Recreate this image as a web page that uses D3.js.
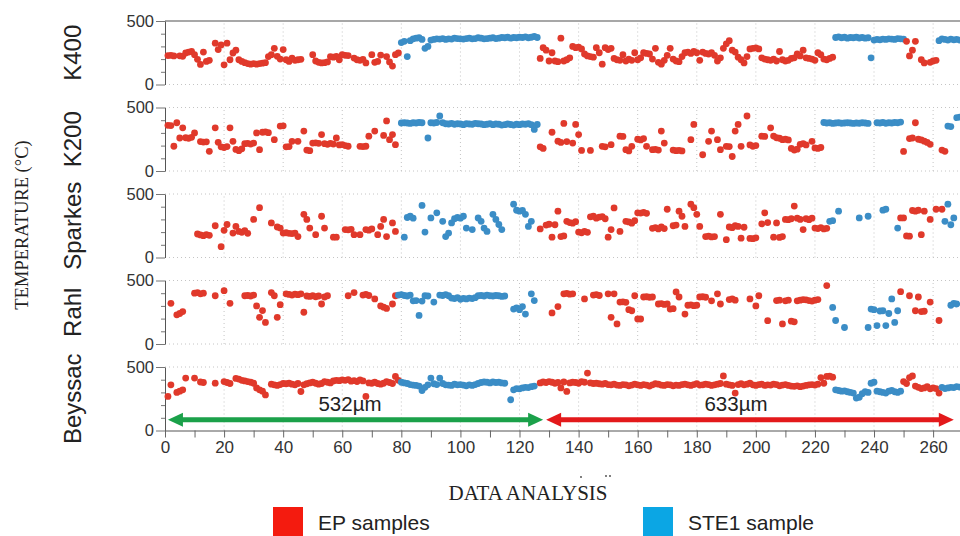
<!DOCTYPE html>
<html>
<head>
<meta charset="utf-8">
<script src="https://cdn.jsdelivr.net/npm/d3@7"></script>
<style>
  body { margin: 0; background: #fff; }
</style>
</head>
<body>
<svg id="chart" width="960" height="536"></svg>
<script>
// panel names, top to bottom
const panelNames = ["K400", "K200", "Sparkes", "Rahl", "Beyssac"];

// temperature per analysis, index 0 = analysis 1 (null = no point)
const k400 = [
  228,230,225,null,226,222,248,255,260,235,
  198,158,255,182,190,null,325,275,312,155,
  325,195,248,270,195,182,172,165,160,165,
  160,165,168,172,220,235,285,222,200,275,
  195,182,208,190,195,198,null,null,null,235,
  185,175,170,172,178,220,215,222,195,235,
  230,228,null,208,195,190,198,170,null,235,
  175,182,232,null,220,178,145,235,248,330,
  340,220,345,360,365,368,355,285,300,350,
  355,360,358,362,355,360,358,365,362,360,
  358,362,365,360,362,368,365,360,362,365,
  368,362,365,370,368,372,365,370,368,372,
  370,375,368,372,378,370,205,290,270,185,
  250,185,180,365,185,195,210,300,290,295,
  280,240,225,220,215,290,250,160,290,275,
  285,205,195,190,235,185,200,190,250,195,
  210,250,245,240,200,285,175,160,190,230,
  285,200,185,180,220,250,255,245,260,250,
  190,255,245,240,250,230,185,210,285,320,
  345,270,255,215,195,170,220,280,285,288,
  280,210,200,195,190,200,185,260,195,185,
  190,205,210,240,225,270,210,205,200,190,
  250,235,200,195,205,215,370,375,368,372,
  365,370,368,372,366,370,365,368,210,350,
  355,352,358,355,360,358,355,362,360,358,
  340,225,270,340,null,195,170,null,175,185,
  190,345,360,355,350,358,352,355,350
];
const k200 = [
  360,358,195,380,260,340,262,258,265,300,
  null,232,228,230,155,null,340,226,190,185,
  192,340,234,170,160,175,215,218,212,220,
  300,168,305,308,302,null,247,null,354,356,
  190,192,234,null,234,null,314,165,160,220,
  222,218,287,215,210,218,212,260,205,208,
  200,195,null,null,null,194,192,195,274,null,
  314,null,null,280,394,247,287,207,null,378,
  380,378,375,380,378,382,380,null,260,380,
  378,382,433,380,372,370,375,368,372,370,
  365,372,370,368,375,372,370,365,368,372,
  365,370,368,362,365,370,366,362,368,365,
  370,368,372,365,327,366,190,178,null,null,
  305,null,235,225,375,232,null,220,367,287,
  162,null,null,162,null,null,null,194,190,null,
  207,null,null,274,272,168,158,194,null,250,
  245,255,194,null,168,170,165,314,220,null,
  null,165,160,162,158,null,null,247,367,null,
  null,128,null,234,314,null,247,168,null,194,
  192,114,314,367,194,null,433,205,195,200,
  null,274,272,null,340,275,262,258,247,250,
  245,178,165,172,210,215,205,null,234,182,
  178,185,382,378,380,375,378,380,376,378,
  380,378,375,378,376,380,378,375,null,null,
  380,378,382,376,380,378,382,380,385,154,
  null,255,260,380,250,245,235,225,210,null,
  null,null,165,155,354,350,null,420,425
];
const sparkes = [
  null,null,null,null,null,null,null,null,null,null,
  185,178,172,180,175,null,250,null,85,214,
  260,null,192,245,205,198,212,190,null,300,
  null,392,null,null,null,272,null,240,232,192,
  195,190,188,192,165,null,340,300,232,null,
  180,null,325,232,null,null,160,160,null,null,
  220,218,222,180,null,180,null,220,215,225,
  null,180,245,300,165,null,272,205,null,null,
  160,315,325,310,null,null,410,200,null,312,
  null,352,null,285,165,192,272,305,315,310,
  325,232,null,220,null,312,285,232,205,null,
  340,300,260,220,null,null,null,420,372,365,
  370,340,245,285,null,null,225,null,255,262,
  160,258,365,165,170,285,275,270,282,200,
  195,205,198,320,325,310,318,322,305,160,
  220,390,null,205,null,285,280,270,290,352,
  350,355,348,null,230,235,225,240,228,380,
  null,250,255,365,325,245,null,420,392,340,
  245,null,165,168,162,165,null,340,null,140,
  240,235,250,245,152,238,null,150,148,155,
  null,265,352,275,null,160,272,158,165,300,
  298,305,405,310,300,220,305,298,310,232,
  228,235,225,230,285,290,null,365,null,null,
  null,null,null,null,312,null,null,325,null,null,
  null,null,373,380,null,null,null,232,312,312,
  170,168,370,365,372,180,365,null,300,null,
  380,null,380,285,420,258,312,null,null
];
const rahl = [
  null,320,null,230,240,255,null,null,null,400,
  405,395,400,null,null,null,380,null,null,420,
  null,320,null,null,null,null,380,382,378,385,
  300,210,263,170,null,405,380,210,310,null,
  395,390,385,392,388,395,250,378,375,380,
  372,378,315,370,380,null,null,null,null,null,
  null,380,null,405,null,null,385,390,382,null,
  355,null,300,290,280,null,315,380,385,388,
  382,378,385,340,342,225,338,380,378,null,
  330,null,385,382,388,380,362,358,365,352,
  360,355,362,358,365,380,382,378,385,380,
  378,382,380,375,378,null,null,275,285,270,
  295,236,null,395,342,null,null,null,null,null,
  245,null,295,null,395,398,392,395,null,null,
  null,355,null,null,385,388,382,null,null,395,
  210,395,158,330,332,328,270,262,380,197,
  197,370,372,368,370,null,315,318,312,315,
  275,278,410,370,null,236,305,308,302,305,
  370,372,368,null,340,null,395,315,null,null,
  350,355,345,null,null,null,null,355,null,300,
  380,null,null,184,null,null,342,345,158,340,
  345,180,175,340,345,350,348,342,338,345,
  350,null,null,460,null,288,185,null,null,130,
  null,null,null,null,null,null,null,130,275,270,
  145,260,262,145,240,355,170,262,412,null,
  null,380,null,262,370,255,258,null,330,null,
  null,185,null,null,null,305,320,315,null
];
const beyssac = [
  268,360,null,300,310,320,413,null,null,413,
  null,382,378,null,null,null,373,null,null,385,
  378,370,null,410,405,395,390,385,380,372,
  335,320,310,280,null,365,360,355,362,370,
  368,372,365,360,370,307,360,368,375,380,
  372,365,370,385,380,375,390,395,392,398,
  395,400,388,392,385,398,390,268,375,372,
  380,370,365,372,385,378,370,426,395,380,
  375,370,362,358,355,350,315,340,360,413,
  368,362,413,370,360,358,355,365,360,362,
  358,352,360,355,362,370,378,382,380,375,
  382,378,380,375,372,null,242,320,330,328,
  335,340,338,345,350,null,375,382,378,385,
  380,372,378,335,382,308,375,380,378,372,
  385,380,452,375,370,372,368,365,370,362,
  360,365,358,355,362,360,352,358,365,360,
  355,362,358,350,360,368,365,358,355,362,
  360,352,358,355,362,365,360,355,362,368,
  358,360,365,362,355,360,365,370,430,365,
  360,355,295,362,368,360,365,372,360,355,
  362,365,355,360,358,365,362,352,358,362,
  355,350,348,352,345,350,355,360,362,358,
  365,417,372,426,428,420,320,315,310,312,
  305,300,295,255,262,290,305,300,372,380,
  310,305,300,295,310,315,305,300,310,385,
  370,417,430,350,340,330,335,345,328,335,
  330,295,340,330,335,340,338,345,342
];
const panelValues = [k400, k200, sparkes, rahl, beyssac];

// analysis ranges that belong to the STE1 sample, per panel
const k400Ste1 = [[80, 126], [227, 250], [262, 269]];
const k200Ste1 = [[80, 126], [223, 249], [265, 269]];
const sparkesSte1 = [[80, 126], [225, 248], [264, 269]];
const rahlSte1 = [[79, 126], [226, 248], [266, 269]];
const beyssacSte1 = [[80, 126], [227, 249], [263, 269]];
const panelSte1 = [k400Ste1, k200Ste1, sparkesSte1, rahlSte1, beyssacSte1];

// ticks
const xTicks = [0,10,20,30,40,50,60,70,80,90,100,110,120,130,140,150,160,170,180,190,200,210,220,230,240,250,260];
const yTicks = [0, 100, 200, 300, 400, 500];

// laser spot spans shown under the bottom panel
const spanLabels = ["532µm", "633µm"];
const spanStart = [1, 129];
const spanEnd = [128, 267];
const spanLevel = 85;   // drawn at this temperature in the Beyssac panel
const spanLabelLevel = 155;

const legendLabels = ["EP samples", "STE1 sample"];

// ---- layout
const svg = d3.select('#chart');
const left = 165, right = 960;
const panelTop = 21, panelStep = 86.5, panelH = 63.5;
const red = '#e0392b', blue = '#3b8dc6';
const sans = '"Liberation Sans", Arial, sans-serif';
const serif = '"Liberation Serif", "Times New Roman", serif';

const x = d3.scaleLinear().domain([0, 269.1]).range([left, right]);

panelValues.forEach(function (vals, i) {
    const top = panelTop + i * panelStep;
    const y = d3.scaleLinear().domain([0, 500]).range([top + panelH, top]);
    const g = svg.append('g');

    // dotted grid
    g.selectAll('line.vgrid')
        .data(xTicks.filter(d => d > 0 && d % 20 === 0))
        .join('line')
        .attr('x1', d => x(d)).attr('x2', d => x(d))
        .attr('y1', y(0)).attr('y2', y(500))
        .attr('stroke', '#c4c4c4').attr('stroke-width', 1)
        .attr('stroke-dasharray', '1,3');

    g.append('line')
        .attr('x1', left).attr('x2', right)
        .attr('y1', y(500)).attr('y2', y(500))
        .attr('stroke', i === 0 ? '#8a8a8a' : '#c4c4c4')
        .attr('stroke-width', i === 0 ? 1.5 : 1)
        .attr('stroke-dasharray', i === 0 ? null : '1,3');
    if (i < panelValues.length - 1) {
        g.append('line')
            .attr('x1', left).attr('x2', right)
            .attr('y1', y(0)).attr('y2', y(0))
            .attr('stroke', '#c4c4c4')
            .attr('stroke-dasharray', '1,3');
    }

    // left axis
    const yAxisG = g.append('g')
        .attr('transform', `translate(${left},0)`)
        .call(d3.axisLeft(y).tickValues(yTicks).tickSize(9).tickSizeOuter(0)
            .tickFormat(d => (d === 0 || d === 500) ? d : ''));
    yAxisG.select('.domain').attr('stroke', '#555');
    yAxisG.selectAll('.tick line')
        .attr('stroke', '#777')
        .attr('x2', d => (d === 0 || d === 500) ? -9 : -4);
    yAxisG.selectAll('.tick text')
        .attr('font-family', sans).attr('font-size', 16.5).attr('fill', '#333')
        .attr('x', -11);

    // panel name
    svg.append('text')
        .attr('transform', `translate(72,${top + panelH / 2}) rotate(-90)`)
        .attr('text-anchor', 'middle')
        .attr('dominant-baseline', 'central')
        .attr('font-family', sans).attr('font-size', 24).attr('fill', '#222')
        .text(panelNames[i]);

    // points
    const ranges = panelSte1[i];
    const pts = [];
    vals.forEach(function (v, k) {
        if (v === null) return;
        const n = k + 1;
        pts.push({ n: n, v: v, ste1: ranges.some(r => n >= r[0] && n <= r[1]) });
    });
    g.selectAll('circle')
        .data(pts)
        .join('circle')
        .attr('cx', d => x(d.n))
        .attr('cy', d => y(d.v))
        .attr('r', 3.4)
        .attr('fill', d => d.ste1 ? blue : red);

    // bottom axis and spans on the last panel
    if (i === panelValues.length - 1) {
        const xAxisG = svg.append('g')
            .attr('transform', `translate(0,${y(0)})`)
            .call(d3.axisBottom(x).tickValues(xTicks).tickSize(7).tickSizeOuter(0)
                .tickFormat(d => d % 20 === 0 ? d : ''));
        xAxisG.select('.domain').attr('stroke', '#555');
        xAxisG.selectAll('.tick line').attr('stroke', '#666');
        xAxisG.selectAll('.tick text')
            .attr('font-family', sans).attr('font-size', 17).attr('fill', '#333')
            .attr('y', 10);

        const spanColors = ['#1ba14a', '#e3191b'];
        spanLabels.forEach(function (lab, s) {
            const x0 = x(spanStart[s]), x1 = x(spanEnd[s]), yy = y(spanLevel);
            const head = 15, half = 7;
            svg.append('line')
                .attr('x1', x0 + head - 2).attr('x2', x1 - head + 2)
                .attr('y1', yy).attr('y2', yy)
                .attr('stroke', spanColors[s]).attr('stroke-width', 5);
            svg.append('path')
                .attr('d', `M${x0},${yy}L${x0 + head},${yy - half}L${x0 + head},${yy + half}Z`)
                .attr('fill', spanColors[s]);
            svg.append('path')
                .attr('d', `M${x1},${yy}L${x1 - head},${yy - half}L${x1 - head},${yy + half}Z`)
                .attr('fill', spanColors[s]);
            svg.append('text')
                .attr('x', s === 0 ? 350 : 736)
                .attr('y', y(spanLabelLevel))
                .attr('text-anchor', 'middle')
                .attr('font-family', sans).attr('font-size', 20.5).attr('fill', '#222')
                .text(lab);
        });
    }
});

// axis titles
svg.append('text')
    .attr('transform', 'translate(22,225) rotate(-90)')
    .attr('text-anchor', 'middle')
    .attr('dominant-baseline', 'central')
    .attr('font-family', serif).attr('font-size', 18.5).attr('fill', '#222')
    .text('TEMPERATURE (°C)');

svg.append('text')
    .attr('x', 528).attr('y', 500)
    .attr('text-anchor', 'middle')
    .attr('font-family', serif).attr('font-size', 21).attr('fill', '#222')
    .text('DATA ANALYSIS');
// small stray marks above the title
svg.append('circle').attr('cx', 581).attr('cy', 477).attr('r', 0.9).attr('fill', '#444');
svg.append('circle').attr('cx', 606).attr('cy', 476).attr('r', 0.9).attr('fill', '#444');
svg.append('circle').attr('cx', 610).attr('cy', 476).attr('r', 0.9).attr('fill', '#444');

// legend
const legendColors = ['#f41b0f', '#0ba6e4'];
const legendX = [273, 643];
legendLabels.forEach(function (lab, i) {
    svg.append('rect')
        .attr('x', legendX[i]).attr('y', 507)
        .attr('width', 30).attr('height', 29)
        .attr('fill', legendColors[i]);
    svg.append('text')
        .attr('x', legendX[i] + 45).attr('y', 530)
        .attr('font-family', sans).attr('font-size', 21).attr('fill', '#222')
        .text(lab);
});
</script>
</body>
</html>
